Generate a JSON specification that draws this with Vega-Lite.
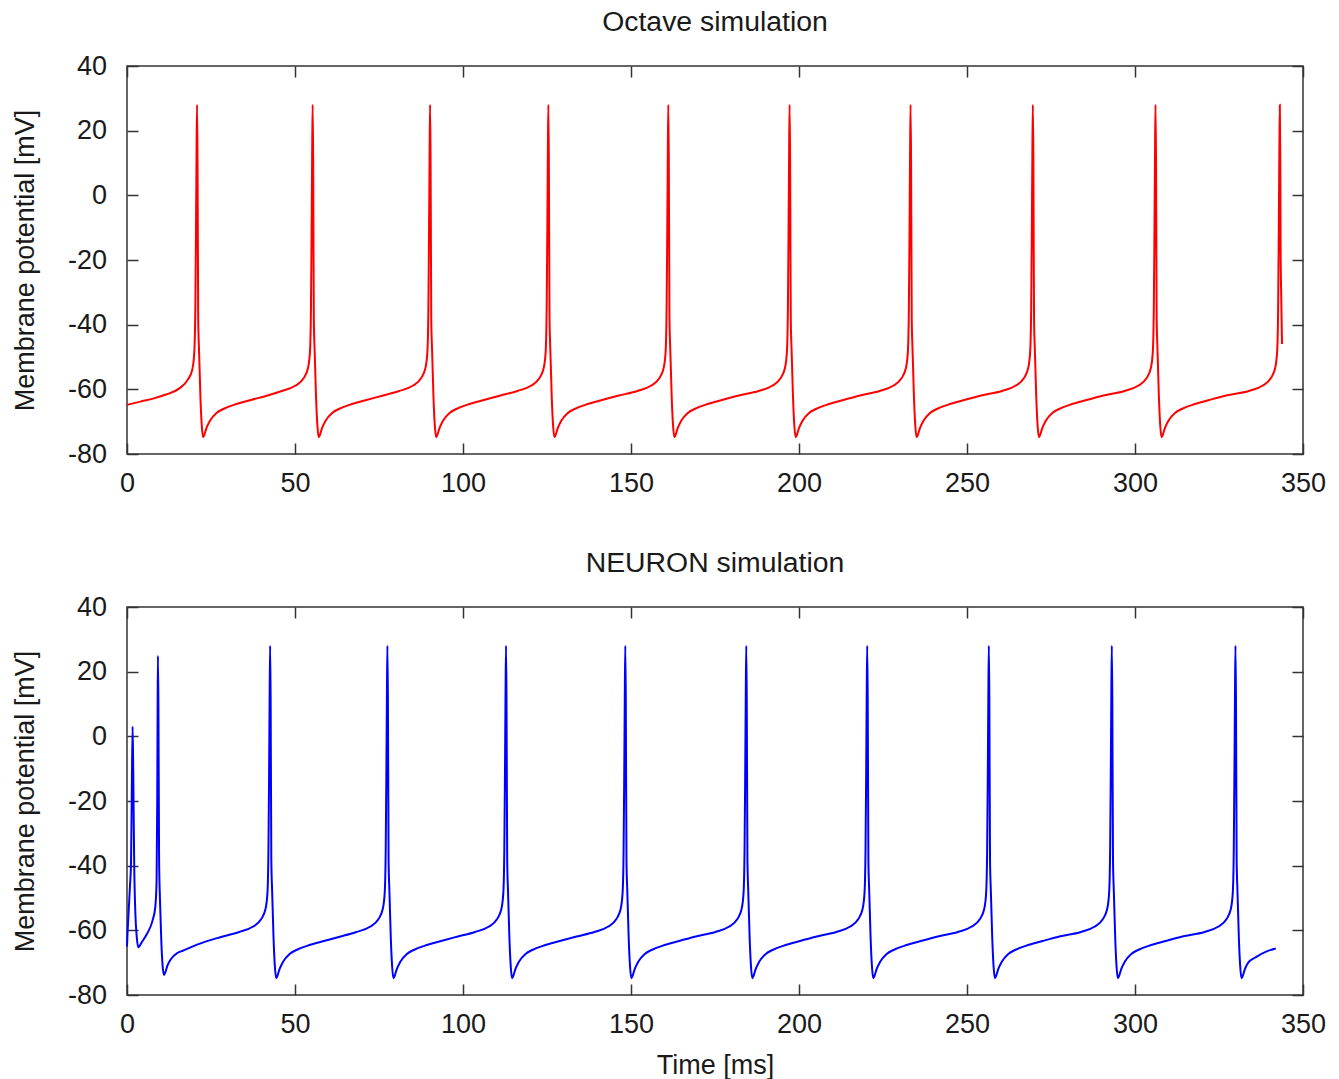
{
  "$schema": "https://vega.github.io/schema/vega-lite/v6.json",
  "background": "white",
  "padding": {"left": 10, "top": 6, "right": 5, "bottom": 5},
  "spacing": 49,
  "config": {
    "view": {"stroke": "#333333", "strokeWidth": 1.5},
    "font": "Liberation Sans",
    "axis": {
      "labelFont": "Liberation Sans", "labelFontSize": 27, "labelColor": "#1a1a1a",
      "titleFont": "Liberation Sans", "titleFontSize": 27, "titleFontWeight": "normal", "titleColor": "#1a1a1a",
      "grid": false, "domain": false, "tickColor": "#333333", "tickWidth": 1.5, "tickSize": -11,
      "labelFlush": false, "labelOverlap": false,
      "labelExpr": "'' + datum.value"
    },
    "axisX": {"labelPadding": 27.5, "titlePadding": 14.5},
    "axisY": {"labelPadding": 31.4, "titlePadding": 28.5},
    "title": {"font": "Liberation Sans", "fontSize": 28.4, "fontWeight": "normal", "color": "#1a1a1a", "offset": 15}
  },
  "datasets": {
    "octave": [
      {"t":0,"v":-64.8},{"t":4,"v":-63.8},{"t":8,"v":-62.8},{"t":11.6,"v":-61.6},{"t":15.6,"v":-59.7},{"t":18.1,"v":-57},{"t":19.4,"v":-54},{"t":20.0,"v":-49},{"t":20.34,"v":-35},{"t":20.54,"v":-10},{"t":20.69,"v":12},{"t":20.84,"v":28},
      {"t":20.99,"v":12},{"t":21.19,"v":-38},{"t":21.44,"v":-48},{"t":21.84,"v":-62},{"t":22.24,"v":-71},{"t":22.64,"v":-74.8},{"t":23.04,"v":-74},{"t":23.64,"v":-72},{"t":24.64,"v":-69.8},{"t":26.64,"v":-67.3},{"t":28.84,"v":-66},{"t":31.84,"v":-64.8},{"t":36.84,"v":-63.3},{"t":41.84,"v":-61.9},
      {"t":46.05,"v":-60.5},{"t":50.05,"v":-58.9},{"t":52.55,"v":-56.6},{"t":53.85,"v":-53.5},{"t":54.45,"v":-48.4},{"t":54.75,"v":-35},{"t":54.95,"v":-10},{"t":55.1,"v":12},{"t":55.25,"v":28},
      {"t":55.4,"v":12},{"t":55.6,"v":-38},{"t":55.85,"v":-48},{"t":56.25,"v":-62},{"t":56.65,"v":-71},{"t":57.05,"v":-74.8},{"t":57.45,"v":-74},{"t":58.05,"v":-72},{"t":59.05,"v":-69.8},{"t":61.05,"v":-67.3},{"t":63.25,"v":-66},{"t":66.25,"v":-64.8},{"t":71.25,"v":-63.3},{"t":76.25,"v":-61.9},
      {"t":81.0,"v":-60.5},{"t":85.0,"v":-58.9},{"t":87.5,"v":-56.6},{"t":88.8,"v":-53.5},{"t":89.4,"v":-48.4},{"t":89.7,"v":-35},{"t":89.9,"v":-10},{"t":90.05,"v":12},{"t":90.2,"v":28},
      {"t":90.35,"v":12},{"t":90.55,"v":-38},{"t":90.8,"v":-48},{"t":91.2,"v":-62},{"t":91.6,"v":-71},{"t":92.0,"v":-74.8},{"t":92.4,"v":-74},{"t":93.0,"v":-72},{"t":94.0,"v":-69.8},{"t":96.0,"v":-67.3},{"t":98.2,"v":-66},{"t":101.2,"v":-64.8},{"t":106.2,"v":-63.3},{"t":111.2,"v":-61.9},
      {"t":116.2,"v":-60.5},{"t":120.2,"v":-58.9},{"t":122.7,"v":-56.6},{"t":124.0,"v":-53.5},{"t":124.6,"v":-48.4},{"t":124.9,"v":-35},{"t":125.1,"v":-10},{"t":125.25,"v":12},{"t":125.4,"v":28},
      {"t":125.55,"v":12},{"t":125.75,"v":-38},{"t":126.0,"v":-48},{"t":126.4,"v":-62},{"t":126.8,"v":-71},{"t":127.2,"v":-74.8},{"t":127.6,"v":-74},{"t":128.2,"v":-72},{"t":129.2,"v":-69.8},{"t":131.2,"v":-67.3},{"t":133.4,"v":-66},{"t":136.4,"v":-64.8},{"t":141.4,"v":-63.3},{"t":146.4,"v":-61.9},
      {"t":151.9,"v":-60.5},{"t":155.9,"v":-58.9},{"t":158.4,"v":-56.6},{"t":159.7,"v":-53.5},{"t":160.3,"v":-48.4},{"t":160.6,"v":-35},{"t":160.8,"v":-10},{"t":160.95,"v":12},{"t":161.1,"v":28},
      {"t":161.25,"v":12},{"t":161.45,"v":-38},{"t":161.7,"v":-48},{"t":162.1,"v":-62},{"t":162.5,"v":-71},{"t":162.9,"v":-74.8},{"t":163.3,"v":-74},{"t":163.9,"v":-72},{"t":164.9,"v":-69.8},{"t":166.9,"v":-67.3},{"t":169.1,"v":-66},{"t":172.1,"v":-64.8},{"t":177.1,"v":-63.3},{"t":182.1,"v":-61.9},
      {"t":188.0,"v":-60.5},{"t":192.0,"v":-58.9},{"t":194.5,"v":-56.6},{"t":195.8,"v":-53.5},{"t":196.4,"v":-48.4},{"t":196.7,"v":-35},{"t":196.9,"v":-10},{"t":197.05,"v":12},{"t":197.2,"v":28},
      {"t":197.35,"v":12},{"t":197.55,"v":-38},{"t":197.8,"v":-48},{"t":198.2,"v":-62},{"t":198.6,"v":-71},{"t":199.0,"v":-74.8},{"t":199.4,"v":-74},{"t":200.0,"v":-72},{"t":201.0,"v":-69.8},{"t":203.0,"v":-67.3},{"t":205.2,"v":-66},{"t":208.2,"v":-64.8},{"t":213.2,"v":-63.3},{"t":218.2,"v":-61.9},
      {"t":224.0,"v":-60.5},{"t":228.0,"v":-58.9},{"t":230.5,"v":-56.6},{"t":231.8,"v":-53.5},{"t":232.4,"v":-48.4},{"t":232.7,"v":-35},{"t":232.9,"v":-10},{"t":233.05,"v":12},{"t":233.2,"v":28},
      {"t":233.35,"v":12},{"t":233.55,"v":-38},{"t":233.8,"v":-48},{"t":234.2,"v":-62},{"t":234.6,"v":-71},{"t":235.0,"v":-74.8},{"t":235.4,"v":-74},{"t":236.0,"v":-72},{"t":237.0,"v":-69.8},{"t":239.0,"v":-67.3},{"t":241.2,"v":-66},{"t":244.2,"v":-64.8},{"t":249.2,"v":-63.3},{"t":254.2,"v":-61.9},
      {"t":260.4,"v":-60.5},{"t":264.4,"v":-58.9},{"t":266.9,"v":-56.6},{"t":268.2,"v":-53.5},{"t":268.8,"v":-48.4},{"t":269.1,"v":-35},{"t":269.3,"v":-10},{"t":269.45,"v":12},{"t":269.6,"v":28},
      {"t":269.75,"v":12},{"t":269.95,"v":-38},{"t":270.2,"v":-48},{"t":270.6,"v":-62},{"t":271.0,"v":-71},{"t":271.4,"v":-74.8},{"t":271.8,"v":-74},{"t":272.4,"v":-72},{"t":273.4,"v":-69.8},{"t":275.4,"v":-67.3},{"t":277.6,"v":-66},{"t":280.6,"v":-64.8},{"t":285.6,"v":-63.3},{"t":290.6,"v":-61.9},
      {"t":296.9,"v":-60.5},{"t":300.9,"v":-58.9},{"t":303.4,"v":-56.6},{"t":304.7,"v":-53.5},{"t":305.3,"v":-48.4},{"t":305.6,"v":-35},{"t":305.8,"v":-10},{"t":305.95,"v":12},{"t":306.1,"v":28},
      {"t":306.25,"v":12},{"t":306.45,"v":-38},{"t":306.7,"v":-48},{"t":307.1,"v":-62},{"t":307.5,"v":-71},{"t":307.9,"v":-74.8},{"t":308.3,"v":-74},{"t":308.9,"v":-72},{"t":309.9,"v":-69.8},{"t":311.9,"v":-67.3},{"t":314.1,"v":-66},{"t":317.1,"v":-64.8},{"t":322.1,"v":-63.3},{"t":327.1,"v":-61.9},
      {"t":333.9,"v":-60.5},{"t":337.9,"v":-58.9},{"t":340.4,"v":-56.6},{"t":341.7,"v":-53.5},{"t":342.3,"v":-48.4},{"t":342.6,"v":-35},{"t":342.8,"v":-10},{"t":342.95,"v":12},{"t":343.1,"v":28},
      {"t":343.25,"v":10},{"t":343.35,"v":-18},{"t":343.55,"v":-33},{"t":343.75,"v":-46}
    ],
    "neuron": [
      {"t":0,"v":-65},{"t":0.2,"v":-60},{"t":0.5,"v":-54},{"t":0.9,"v":-46},{"t":1.2,"v":-39},{"t":1.45,"v":-15},{"t":1.67,"v":3},{"t":1.85,"v":-10},{"t":2.15,"v":-40},{"t":2.5,"v":-55},{"t":2.9,"v":-62},{"t":3.36,"v":-65.2},
      {"t":4.5,"v":-63.5},{"t":6.0,"v":-61},{"t":7.6,"v":-57},{"t":8.4,"v":-53},{"t":8.8,"v":-45},{"t":9.0,"v":-20},{"t":9.1,"v":5},{"t":9.2,"v":24.9},
      {"t":9.35,"v":10},{"t":9.55,"v":-38},{"t":9.8,"v":-50},{"t":10.2,"v":-63},{"t":10.6,"v":-71},{"t":11.0,"v":-73.8},{"t":11.4,"v":-73},{"t":12.0,"v":-71},{"t":13.0,"v":-69},{"t":15.0,"v":-67},{"t":16.6,"v":-66.3},{"t":21.5,"v":-64.2},{"t":27.5,"v":-62.2},
      {"t":33.4,"v":-60.5},{"t":37.4,"v":-58.9},{"t":39.9,"v":-56.6},{"t":41.2,"v":-53.5},{"t":41.8,"v":-48.4},{"t":42.1,"v":-35},{"t":42.3,"v":-10},{"t":42.45,"v":12},{"t":42.6,"v":28},
      {"t":42.75,"v":12},{"t":42.95,"v":-38},{"t":43.2,"v":-48},{"t":43.6,"v":-62},{"t":44.0,"v":-71},{"t":44.4,"v":-74.8},{"t":44.8,"v":-74},{"t":45.4,"v":-72},{"t":46.4,"v":-69.8},{"t":48.4,"v":-67.3},{"t":50.6,"v":-66},{"t":53.6,"v":-64.8},{"t":58.6,"v":-63.3},{"t":63.6,"v":-61.9},
      {"t":68.3,"v":-60.5},{"t":72.3,"v":-58.9},{"t":74.8,"v":-56.6},{"t":76.1,"v":-53.5},{"t":76.7,"v":-48.4},{"t":77.0,"v":-35},{"t":77.2,"v":-10},{"t":77.35,"v":12},{"t":77.5,"v":28},
      {"t":77.65,"v":12},{"t":77.85,"v":-38},{"t":78.1,"v":-48},{"t":78.5,"v":-62},{"t":78.9,"v":-71},{"t":79.3,"v":-74.8},{"t":79.7,"v":-74},{"t":80.3,"v":-72},{"t":81.3,"v":-69.8},{"t":83.3,"v":-67.3},{"t":85.5,"v":-66},{"t":88.5,"v":-64.8},{"t":93.5,"v":-63.3},{"t":98.5,"v":-61.9},
      {"t":103.6,"v":-60.5},{"t":107.6,"v":-58.9},{"t":110.1,"v":-56.6},{"t":111.4,"v":-53.5},{"t":112.0,"v":-48.4},{"t":112.3,"v":-35},{"t":112.5,"v":-10},{"t":112.65,"v":12},{"t":112.8,"v":28},
      {"t":112.95,"v":12},{"t":113.15,"v":-38},{"t":113.4,"v":-48},{"t":113.8,"v":-62},{"t":114.2,"v":-71},{"t":114.6,"v":-74.8},{"t":115.0,"v":-74},{"t":115.6,"v":-72},{"t":116.6,"v":-69.8},{"t":118.6,"v":-67.3},{"t":120.8,"v":-66},{"t":123.8,"v":-64.8},{"t":128.8,"v":-63.3},{"t":133.8,"v":-61.9},
      {"t":139.1,"v":-60.5},{"t":143.1,"v":-58.9},{"t":145.6,"v":-56.6},{"t":146.9,"v":-53.5},{"t":147.5,"v":-48.4},{"t":147.8,"v":-35},{"t":148.0,"v":-10},{"t":148.15,"v":12},{"t":148.3,"v":28},
      {"t":148.45,"v":12},{"t":148.65,"v":-38},{"t":148.9,"v":-48},{"t":149.3,"v":-62},{"t":149.7,"v":-71},{"t":150.1,"v":-74.8},{"t":150.5,"v":-74},{"t":151.1,"v":-72},{"t":152.1,"v":-69.8},{"t":154.1,"v":-67.3},{"t":156.3,"v":-66},{"t":159.3,"v":-64.8},{"t":164.3,"v":-63.3},{"t":169.3,"v":-61.9},
      {"t":175.1,"v":-60.5},{"t":179.1,"v":-58.9},{"t":181.6,"v":-56.6},{"t":182.9,"v":-53.5},{"t":183.5,"v":-48.4},{"t":183.8,"v":-35},{"t":184.0,"v":-10},{"t":184.15,"v":12},{"t":184.3,"v":28},
      {"t":184.45,"v":12},{"t":184.65,"v":-38},{"t":184.9,"v":-48},{"t":185.3,"v":-62},{"t":185.7,"v":-71},{"t":186.1,"v":-74.8},{"t":186.5,"v":-74},{"t":187.1,"v":-72},{"t":188.1,"v":-69.8},{"t":190.1,"v":-67.3},{"t":192.3,"v":-66},{"t":195.3,"v":-64.8},{"t":200.3,"v":-63.3},{"t":205.3,"v":-61.9},
      {"t":211.1,"v":-60.5},{"t":215.1,"v":-58.9},{"t":217.6,"v":-56.6},{"t":218.9,"v":-53.5},{"t":219.5,"v":-48.4},{"t":219.8,"v":-35},{"t":220.0,"v":-10},{"t":220.15,"v":12},{"t":220.3,"v":28},
      {"t":220.45,"v":12},{"t":220.65,"v":-38},{"t":220.9,"v":-48},{"t":221.3,"v":-62},{"t":221.7,"v":-71},{"t":222.1,"v":-74.8},{"t":222.5,"v":-74},{"t":223.1,"v":-72},{"t":224.1,"v":-69.8},{"t":226.1,"v":-67.3},{"t":228.3,"v":-66},{"t":231.3,"v":-64.8},{"t":236.3,"v":-63.3},{"t":241.3,"v":-61.9},
      {"t":247.3,"v":-60.5},{"t":251.3,"v":-58.9},{"t":253.8,"v":-56.6},{"t":255.1,"v":-53.5},{"t":255.7,"v":-48.4},{"t":256.0,"v":-35},{"t":256.2,"v":-10},{"t":256.35,"v":12},{"t":256.5,"v":28},
      {"t":256.65,"v":12},{"t":256.85,"v":-38},{"t":257.1,"v":-48},{"t":257.5,"v":-62},{"t":257.9,"v":-71},{"t":258.3,"v":-74.8},{"t":258.7,"v":-74},{"t":259.3,"v":-72},{"t":260.3,"v":-69.8},{"t":262.3,"v":-67.3},{"t":264.5,"v":-66},{"t":267.5,"v":-64.8},{"t":272.5,"v":-63.3},{"t":277.5,"v":-61.9},
      {"t":283.9,"v":-60.5},{"t":287.9,"v":-58.9},{"t":290.4,"v":-56.6},{"t":291.7,"v":-53.5},{"t":292.3,"v":-48.4},{"t":292.6,"v":-35},{"t":292.8,"v":-10},{"t":292.95,"v":12},{"t":293.1,"v":28},
      {"t":293.25,"v":12},{"t":293.45,"v":-38},{"t":293.7,"v":-48},{"t":294.1,"v":-62},{"t":294.5,"v":-71},{"t":294.9,"v":-74.8},{"t":295.3,"v":-74},{"t":295.9,"v":-72},{"t":296.9,"v":-69.8},{"t":298.9,"v":-67.3},{"t":301.1,"v":-66},{"t":304.1,"v":-64.8},{"t":309.1,"v":-63.3},{"t":314.1,"v":-61.9},
      {"t":320.7,"v":-60.5},{"t":324.7,"v":-58.9},{"t":327.2,"v":-56.6},{"t":328.5,"v":-53.5},{"t":329.1,"v":-48.4},{"t":329.4,"v":-35},{"t":329.6,"v":-10},{"t":329.75,"v":12},{"t":329.9,"v":28},
      {"t":330.05,"v":12},{"t":330.25,"v":-38},{"t":330.5,"v":-48},{"t":330.9,"v":-62},{"t":331.3,"v":-71},{"t":331.7,"v":-74.8},{"t":332.1,"v":-74},{"t":332.7,"v":-72},{"t":333.7,"v":-70},{"t":336.0,"v":-68.3},{"t":339.0,"v":-66.6},{"t":341.9,"v":-65.6}
    ]
  },
  "vconcat": [
    {
      "width": 1176, "height": 388,
      "title": {"text": "Octave simulation"},
      "data": {"name": "octave"},
      "layer": [
        {
          "mark": {"type": "line", "color": "#ff0000", "strokeWidth": 2, "interpolate": "monotone"},
          "encoding": {
            "x": {"field": "t", "type": "quantitative", "scale": {"domain": [0, 350], "nice": false, "zero": false},
                  "axis": {"orient": "bottom", "values": [0, 50, 100, 150, 200, 250, 300, 350], "title": null}},
            "y": {"field": "v", "type": "quantitative", "scale": {"domain": [-80, 40], "nice": false, "zero": false},
                  "axis": {"orient": "left", "values": [-80, -60, -40, -20, 0, 20, 40], "title": "Membrane potential [mV]"}}
          }
        },
        {
          "mark": {"type": "line", "opacity": 0},
          "encoding": {
            "x": {"field": "t", "type": "quantitative", "axis": {"orient": "top", "values": [0, 50, 100, 150, 200, 250, 300, 350], "labels": false, "title": null}},
            "y": {"field": "v", "type": "quantitative", "axis": {"orient": "right", "values": [-80, -60, -40, -20, 0, 20, 40], "labels": false, "title": null}}
          }
        }
      ],
      "resolve": {"axis": {"x": "independent", "y": "independent"}}
    },
    {
      "width": 1176, "height": 388,
      "title": {"text": "NEURON simulation"},
      "data": {"name": "neuron"},
      "layer": [
        {
          "mark": {"type": "line", "color": "#0000ff", "strokeWidth": 2, "interpolate": "monotone"},
          "encoding": {
            "x": {"field": "t", "type": "quantitative", "scale": {"domain": [0, 350], "nice": false, "zero": false},
                  "axis": {"orient": "bottom", "values": [0, 50, 100, 150, 200, 250, 300, 350], "title": "Time [ms]"}},
            "y": {"field": "v", "type": "quantitative", "scale": {"domain": [-80, 40], "nice": false, "zero": false},
                  "axis": {"orient": "left", "values": [-80, -60, -40, -20, 0, 20, 40], "title": "Membrane potential [mV]"}}
          }
        },
        {
          "mark": {"type": "line", "opacity": 0},
          "encoding": {
            "x": {"field": "t", "type": "quantitative", "axis": {"orient": "top", "values": [0, 50, 100, 150, 200, 250, 300, 350], "labels": false, "title": null}},
            "y": {"field": "v", "type": "quantitative", "axis": {"orient": "right", "values": [-80, -60, -40, -20, 0, 20, 40], "labels": false, "title": null}}
          }
        }
      ],
      "resolve": {"axis": {"x": "independent", "y": "independent"}}
    }
  ]
}
